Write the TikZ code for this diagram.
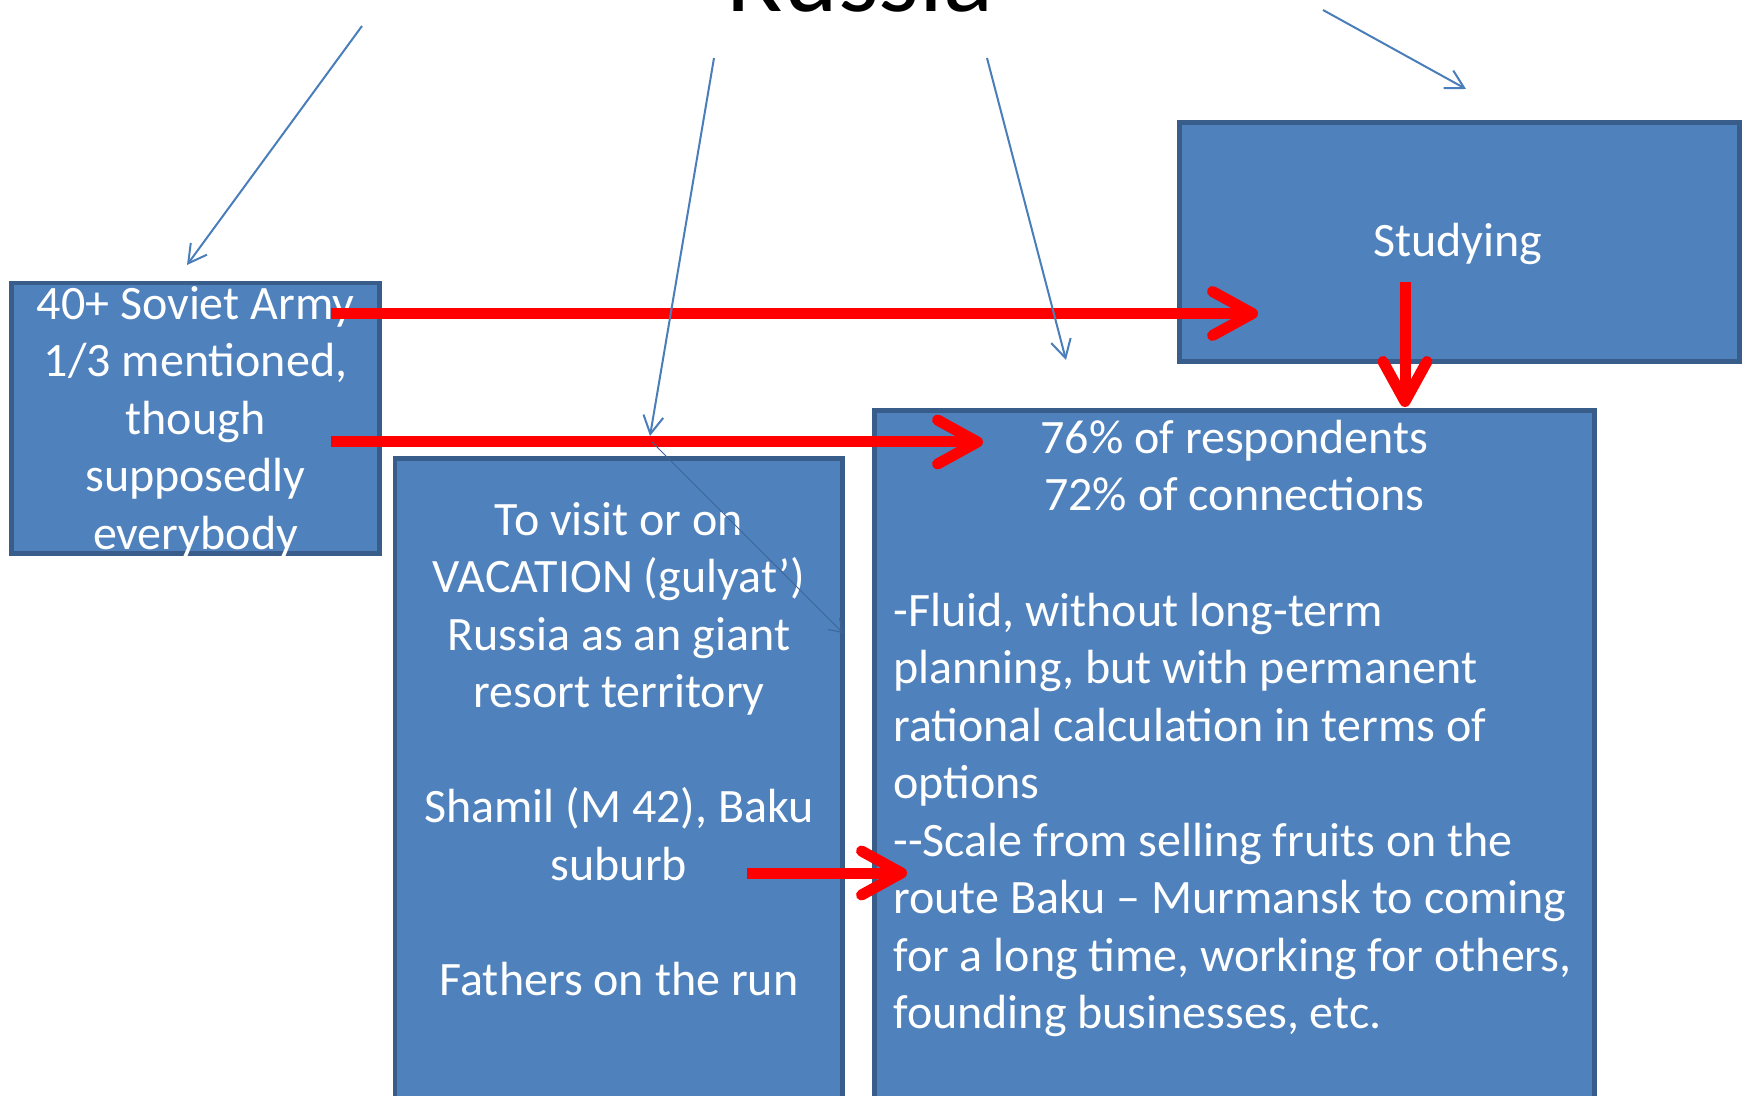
\documentclass[tikz,border=0pt]{standalone}
\usepackage{fontspec}
\setmainfont{Carlito}
\usetikzlibrary{arrows.meta,fit}

\definecolor{boxfill}{HTML}{4F81BD}
\definecolor{boxline}{HTML}{385D8A}
\definecolor{connblue}{HTML}{4A7EBB}
\definecolor{arrowred}{HTML}{FF0000}

\tikzset{
  box/.style={draw=boxline, fill=boxfill, line width=2.25pt, inner sep=0pt, rectangle},
  txt/.style={text=white, inner sep=0pt, font=\fontsize{24pt}{28.75pt}\selectfont},
  link/.style={draw=connblue, line width=1pt, -{Straight Barb[length=9pt, width=10pt]}},
  faintlink/.style={draw=connblue!80!black, line width=0.5pt, -{Straight Barb[length=6pt, width=8pt]}},
  flow/.style={draw=arrowred, line width=5.5pt, -{Straight Barb[round, length=20pt, width=22pt]}}
}

\begin{document}
\begin{tikzpicture}[x=0.5pt, y=-0.5pt]
  \useasboundingbox (0,0) rectangle (1742,1096);
  \clip (0,0) rectangle (1742,1096);

  % heading, cut by the top edge
  \node[anchor=base, inner sep=0pt, font=\fontsize{52pt}{62pt}\selectfont] (title) at (860,12) {Russia};

  % boxes
  \node[box, fit={(11.5,283) (379.5,553.5)}] (army) {};
  \node[box, fit={(395,458.5) (842.5,1120)}] (visit) {};
  \node[box, fit={(874.5,410.5) (1594.5,1120)}] (work) {};
  \node[box, fit={(1179.5,122.5) (1739.5,361.5)}] (study) {};

  % box texts
  \node[txt, align=center, anchor=north] (armytext) at (195.5,278.75)
    {\strut 40+ Soviet Army\\1/3 mentioned,\\though\\supposedly\\everybody};
  \node[txt, align=center, anchor=north] (visittext) at (619,494.75)
    {\strut To visit or on\\VACATION (gulyat’)\\Russia as an giant\\resort territory\\[28.75pt]
     Shamil (M 42), Baku\\suburb\\[28.75pt]Fathers on the run};
  \node[txt, align=center, anchor=north] (worktitle) at (1234.5,412.75)
    {\strut 76\% of respondents\\72\% of connections};
  \node[txt, align=left, anchor=north west] (workbody) at (893,585.5)
    {\strut -Fluid, without long-term\\planning, but with permanent\\rational calculation in terms of\\options\\
     -{}-Scale from selling fruits on the\\route Baku – Murmansk to coming\\for a long time, working for others,\\founding businesses, etc.};
  \node[txt, anchor=base] (studytext) at (1458,257) {Studying};

  % end points of the connectors
  \coordinate (armyA) at (331,313.5);
  \coordinate (studyIn) at (1258,313.5);
  \coordinate (armyB) at (331,442);
  \coordinate (workIn) at (983,442);
  \coordinate (studyOut) at (1405,282);
  \coordinate (workTop) at (1405,407);
  \coordinate (visitOut) at (747,873);
  \coordinate (workSide) at (907,873);

  \coordinate (t1) at (362,26);   \coordinate (h1) at (187,265);
  \coordinate (t2) at (714,58);   \coordinate (h2) at (650,436);
  \coordinate (t3) at (987,58);   \coordinate (h3) at (1066,360);
  \coordinate (t4) at (1323,10);  \coordinate (h4) at (1466,89);
  \coordinate (t5) at (652,442);  \coordinate (h5) at (843,633);

  % red flows
  \draw[flow] (armyA) -- (studyIn);
  \draw[flow] (armyB) -- (workIn);
  \draw[flow] (studyOut) -- (workTop);
  \draw[flow] (visitOut) -- (workSide);

  % thin blue links from the heading
  \draw[link] (t1) -- (h1);
  \draw[link] (t2) -- (h2);
  \draw[link] (t3) -- (h3);
  \draw[link] (t4) -- (h4);
  \draw[faintlink] (t5) -- (h5);
\end{tikzpicture}
\end{document}
